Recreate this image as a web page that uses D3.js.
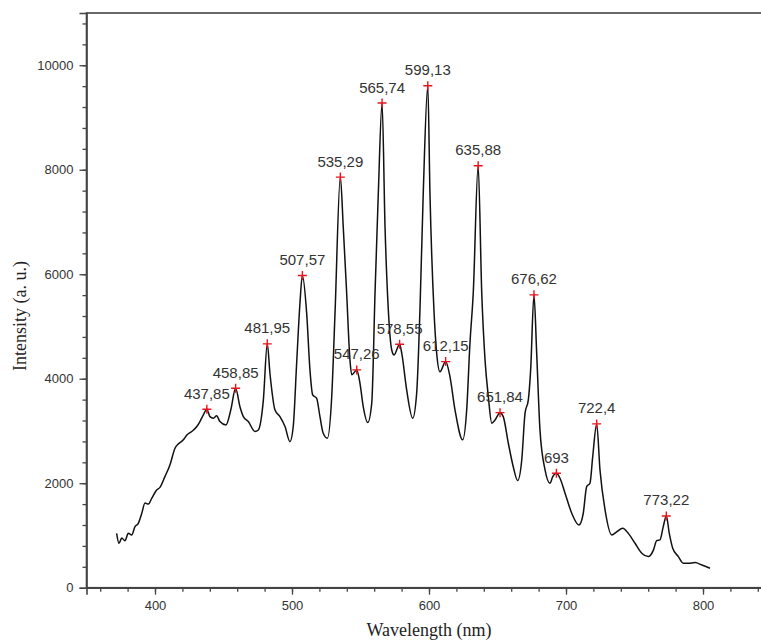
<!DOCTYPE html>
<html>
<head>
<meta charset="utf-8">
<script src="https://cdn.jsdelivr.net/npm/d3@7"></script>
<style>
  body { margin: 0; background: #fff; overflow: hidden; }
  .tick-label { font-family: "Liberation Sans", Arial, sans-serif; font-size: 13px; fill: #333; }
  .peak-label { font-family: "Liberation Sans", Arial, sans-serif; font-size: 15px; fill: #333; }
  .axis-title { font-family: "Liberation Serif", "Times New Roman", serif; font-size: 18px; fill: #222; }
</style>
</head>
<body>
<div id="chart"></div>
<script>
// spectrum
var wavelength = [372.0, 373.7, 375.7, 378.1, 380.5, 383.0, 385.4, 387.8, 390.3, 392.7, 395.1, 397.6,
  401.2, 403.6, 407.3, 410.9, 414.6, 417.0, 420.7, 423.1, 426.8, 430.4, 432.8, 435.3, 437.85,
  440.1, 442.6, 445.0, 447.4, 451.8, 455.3, 458.85, 462.0, 464.5, 468.1, 473.0, 475.4, 479.1,
  481.95, 483.9, 487.6, 491.2, 494.9, 498.5, 500.9, 503.4, 505.8, 507.57, 510.7, 513.1, 515.1,
  518.0, 520.4, 522.8, 525.8, 529.0, 531.4, 535.29, 537.4, 539.9, 542.3, 543.6, 547.26, 549.6,
  552.0, 555.3, 558.2, 560.6, 563.0, 565.74, 567.9, 570.3, 572.8, 574.5, 578.55, 580.1, 583.7,
  588.1, 591.0, 593.4, 595.8, 599.13, 600.7, 603.6, 605.6, 608.0, 612.15, 615.3, 619.0, 624.6,
  627.5, 629.9, 632.3, 635.88, 638.5, 640.9, 643.3, 645.8, 648.2, 651.84, 654.2, 657.9, 661.5,
  664.7, 667.7, 670.1, 672.5, 674.2, 676.62, 678.6, 681.0, 684.7, 688.3, 690.3, 693.0, 695.6,
  699.3, 704.2, 709.5, 712.6, 715.1, 717.5, 719.5, 722.4, 724.8, 728.5, 733.4, 737.0, 741.4,
  745.5, 750.4, 755.3, 760.1, 763.8, 766.2, 768.6, 771.0, 773.22, 775.4, 777.9, 782.0, 785.6,
  789.3, 794.2, 799.1, 805.1];
var intensity = [1040, 850, 950, 900, 1040, 1010, 1170, 1230, 1420, 1620, 1600, 1710,
  1870, 1920, 2130, 2350, 2670, 2750, 2830, 2920, 2990, 3080, 3180, 3310, 3416,
  3275, 3245, 3290, 3180, 3115, 3400, 3818, 3465, 3275, 3180, 2990, 3020, 3595,
  4667, 4105, 3400, 3275, 3085, 2795, 3085, 4300, 5445, 5975, 5255, 4170, 3690,
  3625, 3275, 2955, 2860, 3660, 5255, 7859, 6910, 5640, 4360, 4075, 4169, 3915,
  3465, 3160, 3530, 5640, 7550, 9276, 6910, 5320, 4550, 4455, 4661, 4490, 3785,
  3245, 3725, 5320, 7550, 9607, 7550, 5320, 4490, 4135, 4328, 4040, 3400, 2830,
  3400, 4680, 5640, 8075, 5640, 4360, 3660, 3150, 3210, 3351, 3275, 2765, 2315,
  2050, 2445, 3340, 3595, 4170, 5605, 4490, 3020, 2255, 2000, 2125, 2191, 2095,
  1810, 1425, 1200, 1425, 1935, 2000, 2510, 3135, 2255, 1490, 1010, 1070, 1140,
  1040, 850, 660, 595, 720, 900, 915, 1170, 1373, 1040, 755, 595, 470,
  470, 480, 435, 372];

// labelled peaks
var peakWavelength = [437.85, 458.85, 481.95, 507.57, 535.29, 547.26, 565.74, 578.55,
  599.13, 612.15, 635.88, 651.84, 676.62, 693, 722.4, 773.22];
var peakIntensity = [3416, 3818, 4667, 5975, 7859, 4169, 9276, 4661,
  9607, 4328, 8075, 3351, 5605, 2191, 3135, 1373];
var peakLabel = ["437,85", "458,85", "481,95", "507,57", "535,29", "547,26", "565,74", "578,55",
  "599,13", "612,15", "635,88", "651,84", "676,62", "693", "722,4", "773,22"];

var xMajor = [400, 500, 600, 700, 800];
var yMajor = [0, 2000, 4000, 6000, 8000, 10000];

var margin = { top: 13, left: 86.5 };
var width = 685;
var height = 574.7;

var svg = d3.select("#chart").append("svg")
    .attr("width", 761)
    .attr("height", 641);

var g = svg.append("g")
    .attr("transform", "translate(" + margin.left + "," + margin.top + ")");

var xScale = d3.scaleLinear().domain([350, 850]).range([0, width]);
var yScale = d3.scaleLinear().domain([0, 11000]).range([height, 0]);

var axisColor = "#444";

// frame
g.append("rect")
    .attr("x", 0).attr("y", 0)
    .attr("width", width).attr("height", height)
    .attr("fill", "none")
    .attr("stroke", axisColor)
    .attr("stroke-width", 1.6);

// x axis: majors with labels, minors every 20
var xAxis = d3.axisBottom(xScale).tickValues(xMajor).tickSize(7).tickPadding(6).tickFormat(d3.format("d"));
var xMinor = d3.axisBottom(xScale).tickValues(d3.range(360, 850, 20)).tickSize(4).tickFormat("");
var gx = g.append("g").attr("transform", "translate(0," + height + ")").call(xAxis);
g.append("g").attr("transform", "translate(0," + height + ")").call(xMinor)
    .call(function (a) { a.select(".domain").remove(); });

// y axis: majors with labels, minors every 400
var yAxis = d3.axisLeft(yScale).tickValues(yMajor).tickSize(7).tickPadding(6).tickFormat(d3.format("d"));
var yMinor = d3.axisLeft(yScale).tickValues(d3.range(400, 11000, 400)).tickSize(4).tickFormat("");
var gy = g.append("g").call(yAxis);
g.append("g").call(yMinor).call(function (a) { a.select(".domain").remove(); });

g.selectAll(".domain").attr("stroke", axisColor).attr("stroke-width", 1.6);
g.selectAll(".tick line").attr("stroke", axisColor).attr("stroke-width", 1.3);
g.selectAll(".tick text").attr("class", "tick-label").attr("fill", null);

// spectrum line
var data = wavelength.map(function (w, i) { return { w: w, v: intensity[i] }; });
var line = d3.line()
    .x(function (d) { return xScale(d.w); })
    .y(function (d) { return yScale(d.v); })
    .curve(d3.curveMonotoneX);

g.append("path")
    .datum(data)
    .attr("d", line)
    .attr("fill", "none")
    .attr("stroke", "#111")
    .attr("stroke-width", 1.5);

// peak markers
var peaks = peakWavelength.map(function (w, i) {
    return { w: w, v: peakIntensity[i], label: peakLabel[i] };
});

var marks = g.selectAll(".peak").data(peaks).enter().append("g")
    .attr("class", "peak")
    .attr("transform", function (d) { return "translate(" + xScale(d.w) + "," + yScale(d.v) + ")"; });

marks.append("path")
    .attr("d", "M-4.5,0H4.5M0,-4.5V4.5")
    .attr("stroke", "#e8141b")
    .attr("stroke-width", 1.4);

marks.append("text")
    .attr("class", "peak-label")
    .attr("text-anchor", "middle")
    .attr("y", -10.5)
    .text(function (d) { return d.label; });

// axis titles
svg.append("text")
    .attr("class", "axis-title")
    .attr("text-anchor", "middle")
    .attr("x", margin.left + width / 2)
    .attr("y", 636)
    .text("Wavelength (nm)");

svg.append("text")
    .attr("class", "axis-title")
    .attr("text-anchor", "middle")
    .attr("transform", "translate(26," + 316 + ")rotate(-90)")
    .text("Intensity (a. u.)");
</script>
</body>
</html>
